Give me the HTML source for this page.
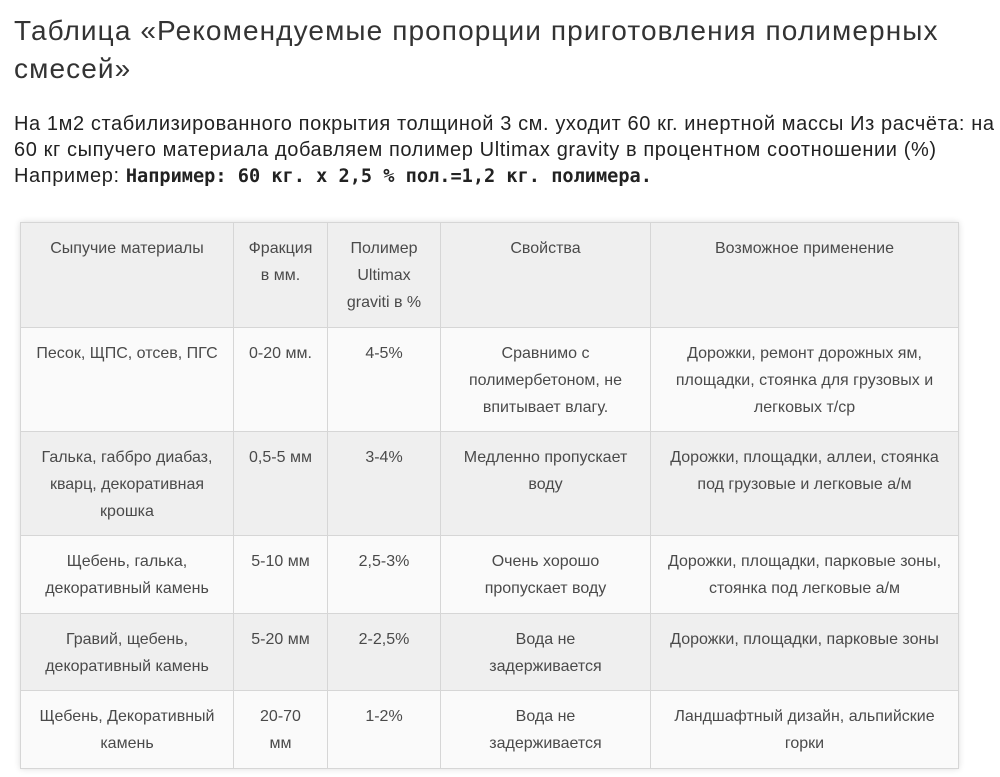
<!DOCTYPE html>
<html><head><meta charset="utf-8"><style>
body{margin:0;width:1000px;height:777px;background:#fff;font-family:"Liberation Sans","DejaVu Sans",sans-serif;color:#222;overflow:hidden;position:relative}
.t{position:absolute;left:14px;top:12px;font-size:28px;line-height:38px;color:#333;width:990px;white-space:nowrap;letter-spacing:1.1px}
.p{position:absolute;left:14px;top:111px;font-size:20px;line-height:26px;color:#222;width:990px;white-space:nowrap;letter-spacing:0.6px}
table{position:absolute;left:20px;top:222px;border-collapse:collapse;font-size:16px;line-height:27px;color:#4a4a4a;box-shadow:0 0 6px #ddd}
td{border:1px solid #d6d6d6;text-align:center;vertical-align:top;padding:12px 2px 0 2px;box-sizing:border-box;white-space:nowrap}
tr.g td{background:#efefef}
tr.w td{background:#fafafa}
</style></head><body>
<div class="t">Таблица «Рекомендуемые пропорции приготовления полимерных<br>смесей»</div>
<div class="p">На 1м2 стабилизированного покрытия толщиной 3 см. уходит 60 кг. инертной массы Из расчёта: на<br>60 кг сыпучего материала добавляем полимер Ultimax gravity в процентном соотношении (%)<br>Например: <b style="font-family:'DejaVu Sans Mono','Liberation Mono',monospace;font-size:18.6px;letter-spacing:0">Например: 60 кг. x 2,5 % пол.=1,2 кг. полимера.</b></div>
<table>
<colgroup><col style="width:213px"><col style="width:94px"><col style="width:113px"><col style="width:210px"><col style="width:308px"></colgroup>
<tr class="g" style="height:105px"><td>Сыпучие материалы</td><td>Фракция<br>в мм.</td><td>Полимер<br>Ultimax<br>graviti в %</td><td>Свойства</td><td>Возможное применение</td></tr>
<tr class="w" style="height:104px"><td>Песок, ЩПС, отсев, ПГС</td><td>0-20 мм.</td><td>4-5%</td><td>Сравнимо с<br>полимербетоном, не<br>впитывает влагу.</td><td>Дорожки, ремонт дорожных ям,<br>площадки, стоянка для грузовых и<br>легковых т/ср</td></tr>
<tr class="g" style="height:104px"><td>Галька, габбро диабаз,<br>кварц, декоративная<br>крошка</td><td>0,5-5 мм</td><td>3-4%</td><td>Медленно пропускает<br>воду</td><td>Дорожки, площадки, аллеи, стоянка<br>под грузовые и легковые а/м</td></tr>
<tr class="w" style="height:78px"><td>Щебень, галька,<br>декоративный камень</td><td>5-10 мм</td><td>2,5-3%</td><td>Очень хорошо<br>пропускает воду</td><td>Дорожки, площадки, парковые зоны,<br>стоянка под легковые а/м</td></tr>
<tr class="g" style="height:77px"><td>Гравий, щебень,<br>декоративный камень</td><td>5-20 мм</td><td>2-2,5%</td><td>Вода не<br>задерживается</td><td>Дорожки, площадки, парковые зоны</td></tr>
<tr class="w" style="height:78px"><td>Щебень, Декоративный<br>камень</td><td>20-70<br>мм</td><td>1-2%</td><td>Вода не<br>задерживается</td><td>Ландшафтный дизайн, альпийские<br>горки</td></tr>
</table>
</body></html>
